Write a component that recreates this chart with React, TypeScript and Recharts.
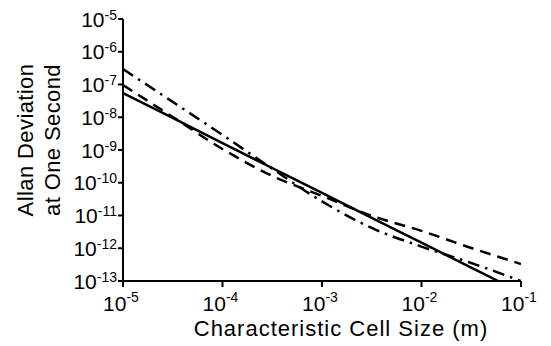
import React from 'react';
import { LineChart, Line, XAxis, YAxis } from 'recharts';

// cell size (m) sample points, log-spaced half decades
const cellSize = [1e-5, 3.16e-5, 1e-4, 3.16e-4, 1e-3, 3.16e-3, 1e-2, 3.16e-2, 1e-1];
// solid line leaves the plot at the bottom edge before 0.1
const solidSize = [1e-5, 3.16e-5, 1e-4, 3.16e-4, 1e-3, 3.16e-3, 1e-2, 3.16e-2, 0.0588];
const solidDev = [5.5e-8, 9.5e-9, 1.62e-9, 2.82e-10, 4.9e-11, 8.5e-12, 1.48e-12, 2.57e-13, 1.0e-13];
const dashedDev = [9.66e-8, 1.02e-8, 1.07e-9, 1.62e-10, 3.98e-11, 9.8e-12, 3.39e-12, 1.02e-12, 3.3e-13];
const dashDotDev = [2.95e-7, 2.95e-8, 2.88e-9, 2.69e-10, 2.69e-11, 4.17e-12, 1.12e-12, 3.55e-13, 1.0e-13];

const xTicks = [1e-5, 1e-4, 1e-3, 1e-2, 1e-1];
const xTickExp = ['-5', '-4', '-3', '-2', '-1'];
const yTicks = [1e-13, 1e-12, 1e-11, 1e-10, 1e-9, 1e-8, 1e-7, 1e-6, 1e-5];
const yTickExp = ['-13', '-12', '-11', '-10', '-9', '-8', '-7', '-6', '-5'];

const xTitle = 'Characteristic Cell Size (m)';
const yTitle = ['Allan Deviation', 'at One Second'];

const FONT = '"Liberation Sans", Arial, sans-serif';

const solidData = solidSize.map((s, i) => ({ size: s, dev: solidDev[i] }));
const dashedData = cellSize.map((s, i) => ({ size: s, dev: dashedDev[i] }));
const dashDotData = cellSize.map((s, i) => ({ size: s, dev: dashDotDev[i] }));

const findIdx = (arr: number[], v: number) =>
  arr.findIndex((t) => Math.abs(Math.log10(t) - Math.log10(v)) < 0.01);

const XTick = (props: any) => {
  const { x, y, payload } = props;
  const i = findIdx(xTicks, payload.value);
  return (
    <text x={x - 2} y={y} textAnchor="middle" fontFamily={FONT} fill="#000">
      <tspan fontSize={21} dy={22}>10</tspan>
      <tspan fontSize={14} dy={-9}>{xTickExp[i]}</tspan>
    </text>
  );
};

const YTick = (props: any) => {
  const { x, y, payload } = props;
  const i = findIdx(yTicks, payload.value);
  return (
    <text x={x + 1} y={y} textAnchor="end" fontFamily={FONT} fill="#000">
      <tspan fontSize={21} dy={7.5}>10</tspan>
      <tspan fontSize={14} dy={-7}>{yTickExp[i]}</tspan>
    </text>
  );
};

const axisStyle = { stroke: '#000', strokeWidth: 2 };

export default function App() {
  return (
    <div style={{ position: 'absolute', left: 0, top: 0, width: 551, height: 346, background: '#fff' }}>
      <LineChart width={551} height={346} margin={{ top: 19, right: 30, bottom: 0, left: 0 }}>
        <XAxis
          dataKey="size"
          type="number"
          scale="log"
          domain={[1e-5, 1e-1]}
          ticks={xTicks}
          interval={0}
          allowDataOverflow
          height={65}
          tickSize={6}
          tick={(p: any) => <XTick {...p} />}
          axisLine={axisStyle}
          tickLine={axisStyle}
        />
        <XAxis
          xAxisId="top"
          orientation="top"
          dataKey="size"
          type="number"
          scale="log"
          domain={[1e-5, 1e-1]}
          ticks={xTicks}
          interval={0}
          allowDataOverflow
          height={0}
          tickSize={6}
          tick={false}
          axisLine={axisStyle}
          tickLine={axisStyle}
        />
        <YAxis
          dataKey="dev"
          type="number"
          scale="log"
          domain={[1e-13, 1e-5]}
          ticks={yTicks}
          interval={0}
          allowDataOverflow
          width={123}
          tickSize={5}
          tick={(p: any) => <YTick {...p} />}
          axisLine={axisStyle}
          tickLine={axisStyle}
        />
        <YAxis
          yAxisId="right"
          orientation="right"
          dataKey="dev"
          type="number"
          scale="log"
          domain={[1e-13, 1e-5]}
          ticks={yTicks}
          interval={0}
          allowDataOverflow
          width={0}
          tickSize={6}
          tick={false}
          axisLine={axisStyle}
          tickLine={axisStyle}
        />
        <Line data={dashDotData} dataKey="dev" type="monotone" stroke="#000" strokeWidth={2.5}
          strokeDasharray="12 6 2.5 6" dot={false} isAnimationActive={false} />
        <Line data={dashedData} dataKey="dev" type="monotone" stroke="#000" strokeWidth={2.5}
          strokeDasharray="11 7" dot={false} isAnimationActive={false} />
        <Line data={solidData} dataKey="dev" type="monotone" stroke="#000" strokeWidth={2.5}
          dot={false} isAnimationActive={false} />
      </LineChart>
      <svg width={551} height={346} style={{ position: 'absolute', left: 0, top: 0, pointerEvents: 'none' }}>
        <text x={341} y={336} textAnchor="middle" fontFamily={FONT} fontSize={22} letterSpacing={1} fill="#000">
          {xTitle}
        </text>
        <text x={33} y={140} transform="rotate(-90 33 140)" textAnchor="middle" fontFamily={FONT}
          fontSize={22} letterSpacing={0.4} fill="#000">
          {yTitle[0]}
        </text>
        <text x={60} y={140} transform="rotate(-90 60 140)" textAnchor="middle" fontFamily={FONT}
          fontSize={22} letterSpacing={0.4} fill="#000">
          {yTitle[1]}
        </text>
      </svg>
    </div>
  );
}
